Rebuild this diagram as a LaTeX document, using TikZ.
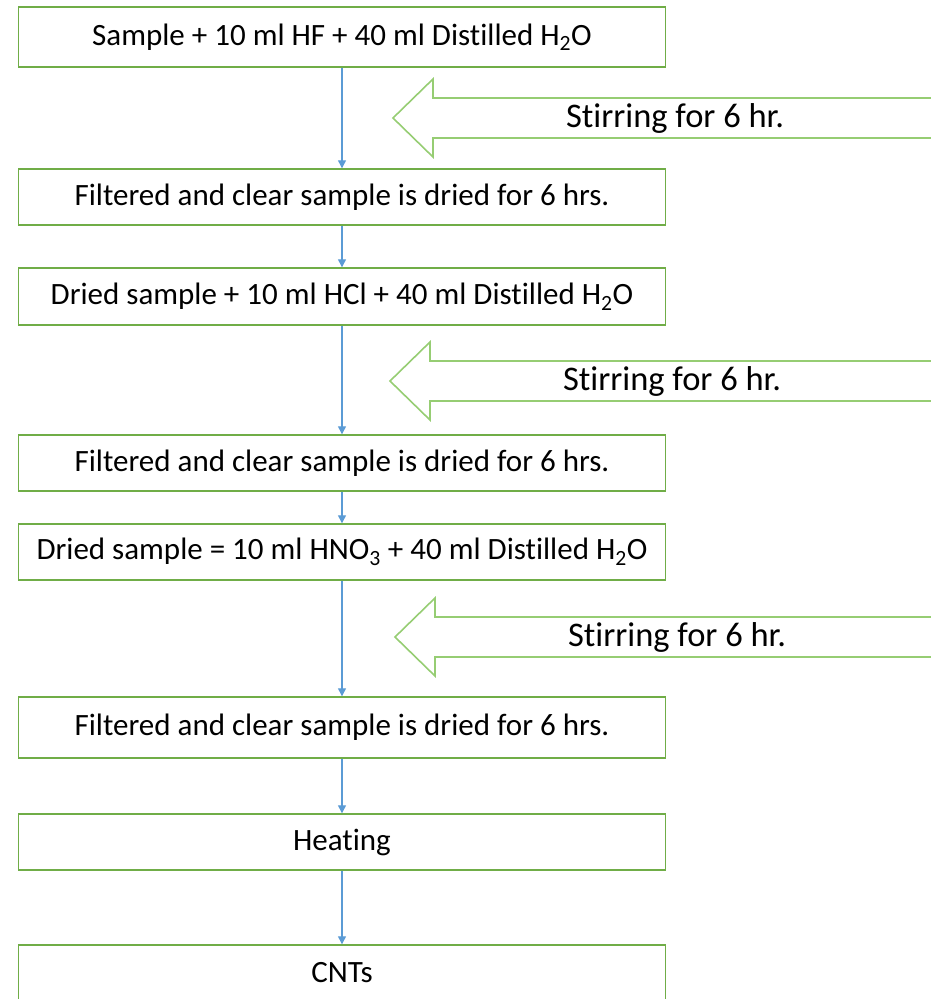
\documentclass[tikz,border=0pt]{standalone}
\usepackage{fontspec}
\setmainfont{Carlito}[Ligatures=NoCommon]
\usetikzlibrary{arrows.meta}
\definecolor{boxgreen}{RGB}{112,173,71}
\definecolor{stirgreen}{RGB}{150,205,115}
\definecolor{linkblue}{RGB}{91,155,213}
\tikzset{
  stepbox/.style ={rectangle, draw=boxgreen, line width=1.4pt, fill=white, minimum width=647pt, minimum height=56pt, inner sep=0pt, font=\fontsize{31}{36}\selectfont},
  flow/.style    ={-{Triangle[length=8pt,width=8pt]}, draw=linkblue, line width=1.2pt},
  stir/.style    ={draw=stirgreen, line width=1.6pt, line join=miter},
  stirtext/.style={font=\fontsize{34.5}{40}\selectfont},
}

\begin{document}
\begin{tikzpicture}[x=1pt, y=1pt]
\useasboundingbox (0,0) rectangle (931,-999);
\node[stepbox, minimum height=60pt] (mixhf)  at (342,-37)    {Sample + 10 ml HF + 40 ml Distilled H\textsubscript{2}O};
\node[stepbox] (dryone)   at (342,-197)   {Filtered and clear sample is dried for 6 hrs.};
\node[stepbox, minimum height=57pt] (mixhcl) at (342,-296.5) {Dried sample + 10 ml HCl + 40 ml Distilled H\textsubscript{2}O};
\node[stepbox] (drytwo)   at (342,-463)   {Filtered and clear sample is dried for 6 hrs.};
\node[stepbox] (mixhno)   at (342,-552)   {Dried sample = 10 ml HNO\textsubscript{3} + 40 ml Distilled H\textsubscript{2}O};
\node[stepbox, minimum height=61pt] (drythree) at (342,-727.5) {Filtered and clear sample is dried for 6 hrs.};
\node[stepbox] (heat)     at (342,-842)   {Heating};
\node[stepbox] (cnt)      at (342,-973)   {CNTs};
\draw[flow] (mixhf) -- (dryone);
\draw[flow] (dryone) -- (mixhcl);
\draw[flow] (mixhcl) -- (drytwo);
\draw[flow] (drytwo) -- (mixhno);
\draw[flow] (mixhno) -- (drythree);
\draw[flow] (drythree) -- (heat);
\draw[flow] (heat) -- (cnt);
% stirring block arrows, open on the right edge
\foreach \tx/\ty/\n in {393/118/1, 390/381/2, 395/637/3} {
  \draw[stir] (935,-\ty+20) -- (\tx+40,-\ty+20) -- (\tx+40,-\ty+39) -- (\tx,-\ty)
    -- (\tx+40,-\ty-39) -- (\tx+40,-\ty-20) -- (935,-\ty-20);
  \node[stirtext] (stir\n) at (\tx+282,-\ty) {Stirring for 6 hr.};
}
\end{tikzpicture}
\end{document}
